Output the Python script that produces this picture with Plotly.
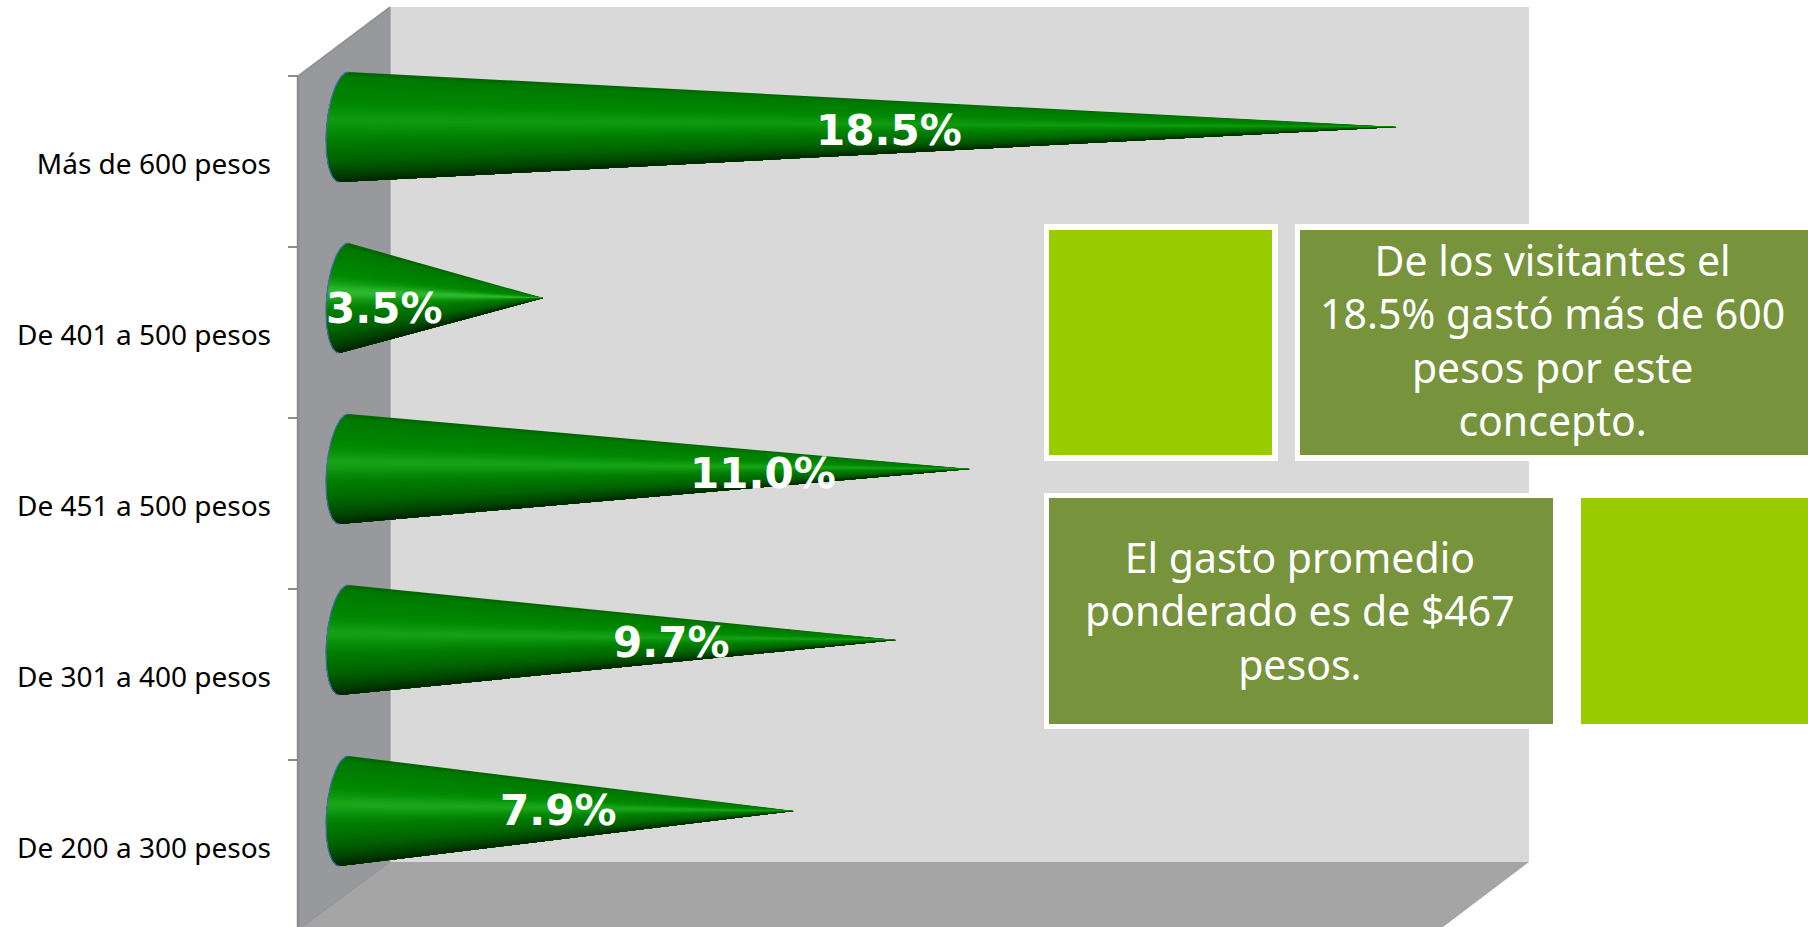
import numpy as np
import plotly.graph_objects as go

# ---- data ----
categories = ["Más de 600 pesos", "De 401 a 500 pesos", "De 451 a 500 pesos",
              "De 301 a 400 pesos", "De 200 a 300 pesos"]
values = [18.5, 3.5, 11.0, 9.7, 7.9]
note_top = "De los visitantes el<br>18.5% gastó más de 600<br>pesos por este<br>concepto."
note_bottom = "El gasto promedio<br>ponderado es de $467<br>pesos."

# ---- layout constants ----
W, H = 1808, 927
X0_PX, X_SCALE = 344.0, 56.9      # value 0 and pixels per percentage point
Y0_PX, Y_SCALE = 127.0, 171.0     # first category and pixels per category
xrange_ = [-X0_PX / X_SCALE, (W - X0_PX) / X_SCALE]
yrange_ = [(H - Y0_PX) / Y_SCALE, -Y0_PX / Y_SCALE]


def px(x):
    return x / W


def py(y):
    return 1 - y / H


def poly(points, fill, line=None, lw=0):
    path = "M" + " L".join(f"{px(a):.5f},{py(b):.5f}" for a, b in points) + " Z"
    return dict(type="path", xref="paper", yref="paper", path=path, fillcolor=fill,
                line=dict(color=line or fill, width=lw), layer="below")


def rect(x0, y0, x1, y1, fill):
    return dict(type="rect", xref="paper", yref="paper", x0=px(x0), x1=px(x1),
                y0=py(y0), y1=py(y1), fillcolor=fill, line=dict(width=0), layer="above")


shapes = [
    poly([(390, 7), (1529, 7), (1529, 862), (390, 862)], "#d9d9d9"),
    poly([(390, 862), (1529, 862), (1443, 927), (302, 927)], "#a5a5a5"),
    poly([(298, 76), (390, 7), (390, 862), (302, 927), (298, 927)], "#98999d"),
    dict(type="line", xref="paper", yref="paper", x0=px(298), y0=py(76), x1=px(390), y1=py(7),
         line=dict(color="#8c8c8c", width=1.5), layer="below"),
    dict(type="line", xref="paper", yref="paper", x0=px(298), y0=py(76), x1=px(298), y1=py(927),
         line=dict(color="#8c8c8c", width=2.5), layer="below"),
    dict(type="line", xref="paper", yref="paper", x0=px(390), y0=py(862), x1=px(302), y1=py(927),
         line=dict(color="#8e8e8e", width=1), layer="below"),
    dict(type="line", xref="paper", yref="paper", x0=px(390), y0=py(7), x1=px(390), y1=py(862),
         line=dict(color="#8e8e90", width=1), layer="below"),
    # callout boxes
    rect(1044, 224, 1278, 461, "#ffffff"), rect(1049, 230, 1272, 455, "#99cc00"),
    rect(1295, 224, 1808, 461, "#ffffff"), rect(1300, 230, 1808, 455, "#77933c"),
    rect(1044, 493, 1558, 729, "#ffffff"), rect(1049, 498, 1553, 724, "#77933c"),
    rect(1581, 498, 1808, 724, "#99cc00"),
]

# ---- gradient stops across the cone, top to bottom ----
stops_s = [0.0, 0.04, 0.28, 0.44, 0.50, 0.62, 0.80, 0.93, 1.0]
stops_r = [0, 0, 0, 16, 10, 0, 0, 0, 0]
stops_g = [95, 120, 136, 155, 146, 125, 100, 66, 36]
stops_b = [0, 0, 0, 16, 10, 0, 0, 0, 0]
glow = [0, 30, 8, 6, 12]          # extra highlight by cone

fig = go.Figure()
N = 48
A = 17.5 / X_SCALE      # horizontal radius of base ellipse
B = 55.0 / Y_SCALE      # vertical radius of base ellipse
SKEW = 4.5 / X_SCALE

for i, v in enumerate(values):
    th = np.linspace(-np.pi / 2, np.pi / 2, 61)
    ax = -A * np.cos(th) - SKEW * np.sin(th)
    ay = i + B * np.sin(th)
    for k in range(N):
        s = k / N
        th0 = np.arcsin(2 * s - 1)
        mask = th >= th0
        xs = np.r_[-A * np.cos(th0) - SKEW * np.sin(th0), ax[mask], v]
        ys = np.r_[i + B * np.sin(th0), ay[mask], i]
        sc = s + 0.5 / N
        peak = np.exp(-((sc - 0.44) / 0.09) ** 2)
        r = np.interp(sc, stops_s, stops_r) + glow[i] * peak
        g = np.interp(sc, stops_s, stops_g) + glow[i] * peak
        b = np.interp(sc, stops_s, stops_b) + glow[i] * peak
        fig.add_trace(go.Scatter(x=xs, y=ys, mode="lines", fill="toself",
                                 fillcolor=f"rgb({r:.0f},{g:.0f},{b:.0f})",
                                 line=dict(width=0), hoverinfo="skip", showlegend=False))
    fig.add_trace(go.Scatter(x=ax, y=ay, mode="lines", line=dict(color="#3f6fa8", width=1.2),
                             hoverinfo="skip", showlegend=False))

LABEL_OFFSET = 0.215
TICK_OFFSET = -0.30
idx = list(range(len(categories)))

label_px = [889, 384, 763, 671, 558]
label_py = [130, 308, 473, 642, 810]
annotations = [
    dict(xref="paper", yref="paper", x=px(a), y=py(b), text=f"<b>{v:.1f}%</b>", showarrow=False,
         xanchor="center", yanchor="middle",
         font=dict(family="DejaVu Sans", size=42, color="white"))
    for a, b, v in zip(label_px, label_py, values)
]
annotations += [
    dict(xref="paper", yref="paper", x=px(1552), y=py(340), text=note_top, showarrow=False,
         align="center", font=dict(family="Noto Sans", size=41, color="white"),
         xanchor="center", yanchor="middle"),
    dict(xref="paper", yref="paper", x=px(1300), y=py(610), text=note_bottom, showarrow=False,
         align="center", font=dict(family="Noto Sans", size=41, color="white"),
         xanchor="center", yanchor="middle"),
]

fig.update_layout(
    width=W, height=H, margin=dict(l=0, r=0, t=0, b=0), autosize=False,
    paper_bgcolor="white", plot_bgcolor="rgba(0,0,0,0)", showlegend=False,
    shapes=shapes, annotations=annotations,
    xaxis=dict(range=xrange_, visible=False, domain=[0, 1], fixedrange=True),
    yaxis=dict(range=yrange_, anchor="free", position=px(271), showgrid=False, zeroline=False,
               showline=False, tickmode="array", tickvals=[a + LABEL_OFFSET for a in idx],
               ticktext=categories, ticks="", ticklabelposition="outside",
               tickfont=dict(family="Noto Sans", size=28, color="black"), fixedrange=True),
    yaxis2=dict(range=yrange_, overlaying="y", anchor="free", position=px(298), showgrid=False,
                zeroline=False, showline=False, tickmode="array",
                tickvals=[a + TICK_OFFSET for a in idx], showticklabels=False,
                ticks="outside", ticklen=10, tickwidth=1.5, tickcolor="#8c8c8c", fixedrange=True),
)
# invisible trace so the tick axis is drawn
fig.add_trace(go.Scatter(x=[0], y=[0], yaxis="y2", mode="markers", marker=dict(opacity=0),
                         hoverinfo="skip", showlegend=False))

fig.write_html("out.html", post_script="document.body.style.margin='0';",
               config=dict(displayModeBar=False))
